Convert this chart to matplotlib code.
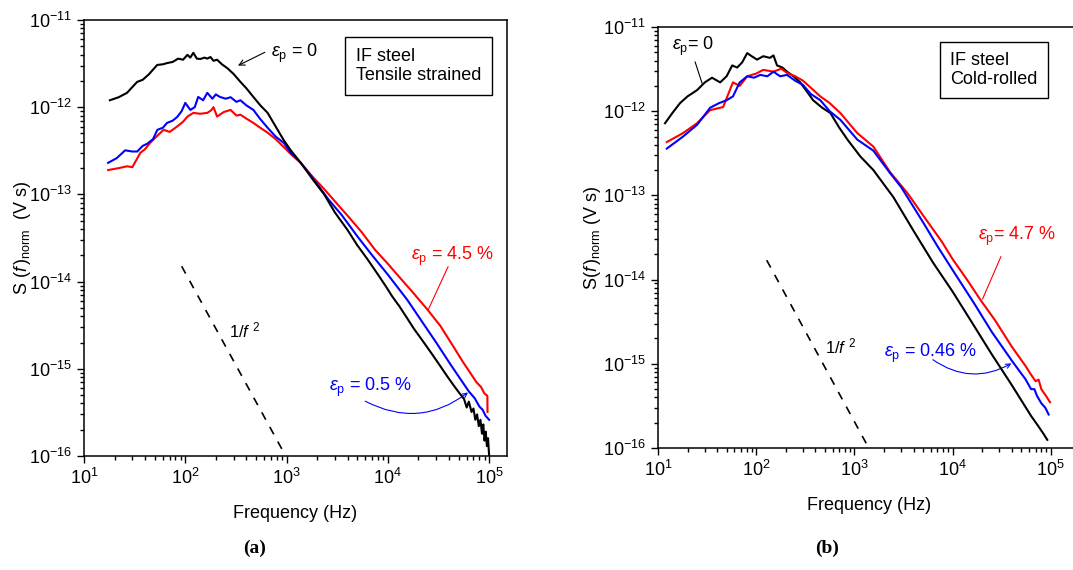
import numpy as np
import matplotlib
matplotlib.use("Agg")
import matplotlib.pyplot as plt
from matplotlib.patches import FancyArrowPatch

plt.rcParams['font.family'] = ['Liberation Sans', 'DejaVu Sans']
plt.rcParams['mathtext.fontset'] = 'custom'
plt.rcParams['mathtext.rm'] = 'Liberation Sans'
plt.rcParams['mathtext.it'] = 'Liberation Sans:italic'
plt.rcParams['mathtext.bf'] = 'Liberation Sans:bold'

# ---- panel (a): tensile strained ----
fa_black = [18, 22, 26.6, 30, 33.5, 38, 44, 52.8, 60, 66, 75, 85, 95, 105, 112, 120, 130,
            141, 155, 165, 177, 190, 206, 230, 260, 300, 350, 400, 470, 550, 650, 780,
            935, 1100, 1380, 1800, 2350, 3000, 4000, 5000, 6300, 8000, 9500, 11000, 13000,
            15500, 18000, 22000, 27000, 33000, 38000, 44000, 50000, 56500, 60000, 63000,
            67000, 70000, 73000, 76000, 79000, 82000, 85000, 87500, 90000, 92500, 95000,
            97500, 100000]
sa_black = [1.2e-12, 1.3e-12, 1.46e-12, 1.7e-12, 1.95e-12, 2.06e-12, 2.4e-12, 3.05e-12,
            3.1e-12, 3.2e-12, 3.3e-12, 3.6e-12, 3.5e-12, 3.98e-12, 3.7e-12, 4.2e-12,
            3.6e-12, 3.57e-12, 3.7e-12, 3.6e-12, 3.76e-12, 3.4e-12, 3.5e-12, 3.1e-12,
            2.8e-12, 2.4e-12, 1.95e-12, 1.65e-12, 1.31e-12, 1.05e-12, 8.6e-13, 6.0e-13,
            4.2e-13, 3.2e-13, 2.3e-13, 1.5e-13, 1.0e-13, 6.2e-14, 3.9e-14, 2.6e-14, 1.8e-14,
            1.2e-14, 8.9e-15, 6.8e-15, 5.2e-15, 3.8e-15, 2.9e-15, 2.1e-15, 1.5e-15,
            1.07e-15, 8.4e-16, 6.6e-16, 5.4e-16, 4.5e-16, 3.6e-16, 4.2e-16, 3.2e-16, 3.5e-16,
            2.6e-16, 3.0e-16, 2.2e-16, 2.6e-16, 1.8e-16, 2.3e-16, 1.5e-16, 1.9e-16, 1.3e-16,
            1.6e-16, 1.0e-16]

fa_blue = [17.3, 21, 25.5, 30, 33.5, 38, 42, 48, 53, 60, 66, 75, 83, 92, 100, 112, 124, 134,
           150, 165, 185, 200, 220, 250, 280, 320, 350, 400, 470, 550, 650, 780, 935, 1100,
           1380, 1800, 2600, 3500, 5000, 7000, 10000, 15500, 22000, 30000, 42000, 63000,
           72000, 80000, 86000, 92000, 100000]
sa_blue = [2.3e-13, 2.6e-13, 3.2e-13, 3.1e-13, 3.1e-13, 3.6e-13, 3.8e-13, 4.3e-13, 5.5e-13,
           5.8e-13, 6.6e-13, 7.0e-13, 7.7e-13, 9.0e-13, 1.12e-12, 9.3e-13, 1.0e-12, 1.31e-12,
           1.2e-12, 1.46e-12, 1.25e-12, 1.4e-12, 1.31e-12, 1.25e-12, 1.3e-12, 1.15e-12,
           1.2e-12, 1.05e-12, 9.3e-13, 7.3e-13, 5.8e-13, 4.6e-13, 3.9e-13, 3.0e-13, 2.3e-13,
           1.55e-13, 8.7e-14, 5.8e-14, 3.3e-14, 2.0e-14, 1.2e-14, 6.2e-15, 3.4e-15, 2.0e-15,
           1.1e-15, 5.5e-16, 4.6e-16, 3.7e-16, 3.4e-16, 2.9e-16, 2.6e-16]

fa_red = [17.3, 22, 26.6, 30, 33, 36, 40, 45, 52, 61, 70, 83, 95, 105, 120, 140, 165, 180,
          190, 206, 240, 280, 320, 350, 400, 470, 550, 650, 780, 935, 1100, 1380, 1800, 2350,
          2900, 4000, 5500, 7500, 10000, 12000, 17000, 24500, 33000, 45000, 55000, 65000,
          75000, 83000, 90000, 96000, 96300]
sa_red = [1.9e-13, 2.0e-13, 2.1e-13, 2.05e-13, 2.5e-13, 3.0e-13, 3.3e-13, 3.9e-13, 4.6e-13,
          5.5e-13, 5.2e-13, 6.0e-13, 6.8e-13, 7.8e-13, 8.6e-13, 8.4e-13, 8.6e-13, 9.2e-13,
          1.0e-12, 7.8e-13, 8.8e-13, 9.3e-13, 8.0e-13, 8.2e-13, 7.4e-13, 6.6e-13, 5.8e-13,
          5.1e-13, 4.3e-13, 3.5e-13, 2.9e-13, 2.3e-13, 1.6e-13, 1.15e-13, 8.7e-14, 5.7e-14,
          3.7e-14, 2.3e-14, 1.6e-14, 1.25e-14, 7.9e-15, 4.8e-15, 3.1e-15, 1.75e-15, 1.2e-15,
          9.0e-16, 7.0e-16, 6.2e-16, 5.2e-16, 4.9e-16, 3.2e-16]

# ---- panel (b): cold-rolled ----
fb_black = [11.8, 14, 16.8, 20, 25, 30, 35.5, 43, 50, 57, 64, 72, 81, 90, 102, 118, 138, 150,
            163, 185, 206, 240, 281, 330, 380, 470, 570, 700, 850, 1150, 1560, 2000, 2500,
            4000, 6300, 10000, 16000, 25000, 40000, 63000, 75000, 85000, 92000]
sb_black = [7.2e-13, 9.5e-13, 1.25e-12, 1.5e-12, 1.78e-12, 2.2e-12, 2.5e-12, 2.2e-12,
            2.6e-12, 3.5e-12, 3.3e-12, 3.8e-12, 4.9e-12, 4.5e-12, 4.1e-12, 4.5e-12, 4.3e-12,
            4.6e-12, 3.5e-12, 3.3e-12, 2.95e-12, 2.6e-12, 2.2e-12, 1.7e-12, 1.35e-12,
            1.1e-12, 9.5e-13, 6.4e-13, 4.6e-13, 2.9e-13, 2.0e-13, 1.35e-13, 9.5e-14, 3.8e-14,
            1.6e-14, 7.2e-15, 3.0e-15, 1.3e-15, 5.6e-16, 2.4e-16, 1.8e-16, 1.45e-16, 1.25e-16]

fb_red = [12.3, 18, 25, 34, 46, 52, 58, 68, 81, 100, 118, 150, 180, 206, 250, 300, 360, 450,
          560, 720, 1070, 1560, 2300, 3500, 5000, 7800, 10000, 14000, 19500, 27000, 40000,
          55000, 63000, 70000, 75000, 80000, 90000, 98000]
sb_red = [4.3e-13, 5.5e-13, 7.2e-13, 1.03e-12, 1.12e-12, 1.6e-12, 2.2e-12, 2.0e-12, 2.6e-12,
          2.8e-12, 3.1e-12, 2.95e-12, 3.2e-12, 2.85e-12, 2.6e-12, 2.3e-12, 1.9e-12, 1.5e-12,
          1.25e-12, 9.5e-13, 5.5e-13, 3.8e-13, 1.9e-13, 1.05e-13, 5.8e-14, 2.8e-14, 1.75e-14,
          1.0e-14, 5.6e-15, 3.3e-15, 1.6e-15, 9.5e-16, 7.4e-16, 6.2e-16, 6.5e-16, 5.0e-16,
          4.1e-16, 3.5e-16]

fb_blue = [12.3, 18, 25, 34, 42, 50, 58, 68, 81, 95, 110, 130, 150, 175, 206, 250, 300, 360,
           450, 560, 720, 1070, 1560, 2300, 3000, 5000, 7000, 10000, 16600, 25000, 41000,
           55000, 63000, 68000, 72000, 80000, 88000, 95000]
sb_blue = [3.6e-13, 5.0e-13, 6.9e-13, 1.1e-12, 1.25e-12, 1.35e-12, 1.5e-12, 2.2e-12, 2.6e-12,
           2.5e-12, 2.7e-12, 2.6e-12, 2.95e-12, 2.6e-12, 2.7e-12, 2.3e-12, 2.05e-12, 1.6e-12,
           1.35e-12, 1.0e-12, 7.9e-13, 4.6e-13, 3.4e-13, 1.85e-13, 1.25e-13, 4.8e-14, 2.5e-14,
           1.3e-14, 5.2e-15, 2.4e-15, 1.05e-15, 6.6e-16, 5.0e-16, 5.0e-16, 4.2e-16, 3.4e-16,
           3.0e-16, 2.5e-16]

# 1/f^2 guide lines (end points)
fa_guide = [92, 980]
sa_guide = [1.5e-14, 1.0e-16]
fb_guide = [128, 1400]
sb_guide = [1.7e-14, 1.0e-16]

fig = plt.figure(figsize=(10.73, 5.70), dpi=100)
ax_a = fig.add_axes([0.0783, 0.200, 0.3942, 0.765])
ax_b = fig.add_axes([0.6132, 0.214, 0.3933, 0.7386])

BLUE = '#0000ff'
RED = '#ff0000'


def setup(ax, xmax, ylab, pad):
    ax.set_xscale('log')
    ax.set_yscale('log')
    ax.set_xlim(10, xmax)
    ax.set_ylim(1e-16, 1e-11)
    ax.set_xticks([1e1, 1e2, 1e3, 1e4, 1e5])
    ax.set_yticks([1e-16, 1e-15, 1e-14, 1e-13, 1e-12, 1e-11])
    ax.tick_params(which='both', direction='out', top=False, right=False,
                   labelsize=13, width=1.0)
    ax.tick_params(which='major', length=5)
    ax.tick_params(which='minor', length=3)
    for s in ax.spines.values():
        s.set_linewidth(1.1)
    ax.set_xlabel('Frequency (Hz)', fontsize=13, labelpad=12)
    ax.set_ylabel(ylab, fontsize=13, labelpad=pad)


eps = r'$\mathit{\varepsilon}_{\mathrm{p}}$'

# panel (a)
setup(ax_a, 1.5e5, r'S ($\mathit{f}\,$)$_{\mathrm{norm}}$  (V s)', -3)
ax_a.plot(fa_red, sa_red, color=RED, lw=1.5)
ax_a.plot(fa_blue, sa_blue, color=BLUE, lw=1.5)
ax_a.plot(fa_black, sa_black, color='black', lw=1.5)
ax_a.plot(fa_guide, sa_guide, color='black', lw=1.2, ls=(0, (5, 5)))
ax_a.text(0.643, 0.935, 'IF steel\nTensile strained', transform=ax_a.transAxes,
          ha='left', va='top', fontsize=13, linespacing=1.15,
          bbox=dict(boxstyle='square,pad=0.6', fc='white', ec='black', lw=1.0))
ax_a.text(706, 3.77e-12, eps + ' = 0', fontsize=13, ha='left', va='baseline')
ax_a.annotate('', xy=(313, 2.9e-12), xytext=(646, 4.4e-12),
              arrowprops=dict(arrowstyle='->', color='black', lw=0.8))
ax_a.text(1.69e4, 1.78e-14, eps + ' = 4.5 %', fontsize=13, color=RED,
          ha='left', va='baseline')
ax_a.plot([3.93e4, 2.49e4], [1.48e-14, 4.7e-15], color=RED, lw=0.8)
ax_a.text(2.6e3, 5.5e-16, eps + ' = 0.5 %', fontsize=13, color=BLUE,
          ha='left', va='baseline')
ax_a.add_patch(FancyArrowPatch((5.65e3, 4.4e-16), (6.5e4, 5.6e-16),
                               connectionstyle='arc3,rad=0.33', arrowstyle='->',
                               mutation_scale=8, color=BLUE, lw=0.8))
ax_a.text(267, 2.3e-15, r'1/$\mathit{f}$ $^{2}$', fontsize=12, ha='left', va='baseline')

# panel (b)
setup(ax_b, 1.98e5, r'S($\mathit{f}\,$)$_{\mathrm{norm}}$ (V s)', 0)
ax_b.plot(fb_black, sb_black, color='black', lw=1.5)
ax_b.plot(fb_red, sb_red, color=RED, lw=1.5)
ax_b.plot(fb_blue, sb_blue, color=BLUE, lw=1.5)
ax_b.plot(fb_guide, sb_guide, color='black', lw=1.2, ls=(0, (5, 5)))
ax_b.text(0.693, 0.94, 'IF steel\nCold-rolled', transform=ax_b.transAxes,
          ha='left', va='top', fontsize=13, linespacing=1.15,
          bbox=dict(boxstyle='square,pad=0.55', fc='white', ec='black', lw=1.0))
ax_b.text(13.9, 5.3e-12, eps + '= 0', fontsize=13, ha='left', va='baseline')
ax_b.plot([23.9, 28.1], [3.84e-12, 2.16e-12], color='black', lw=0.8)
ax_b.text(1.8e4, 2.95e-14, eps + '= 4.7 %', fontsize=13, color=RED,
          ha='left', va='baseline')
ax_b.plot([3.1e4, 2.02e4], [1.87e-14, 5.9e-15], color=RED, lw=0.8)
ax_b.text(1.98e3, 1.2e-15, eps + ' = 0.46 %', fontsize=13, color=BLUE,
          ha='left', va='baseline')
ax_b.add_patch(FancyArrowPatch((5.97e3, 1.17e-15), (4.19e4, 1.05e-15),
                               connectionstyle='arc3,rad=0.33', arrowstyle='->',
                               mutation_scale=8, color=BLUE, lw=0.8))
ax_b.text(506, 1.32e-15, r'1/$\mathit{f}$ $^{2}$', fontsize=12, ha='left', va='baseline')

fig.text(255 / 1073, 1 - 548 / 570, '(a)', family='Liberation Serif', weight='bold',
         fontsize=14, ha='center', va='center')
fig.text(827 / 1073, 1 - 548 / 570, '(b)', family='Liberation Serif', weight='bold',
         fontsize=14, ha='center', va='center')

fig.savefig('out.png', dpi=100)
